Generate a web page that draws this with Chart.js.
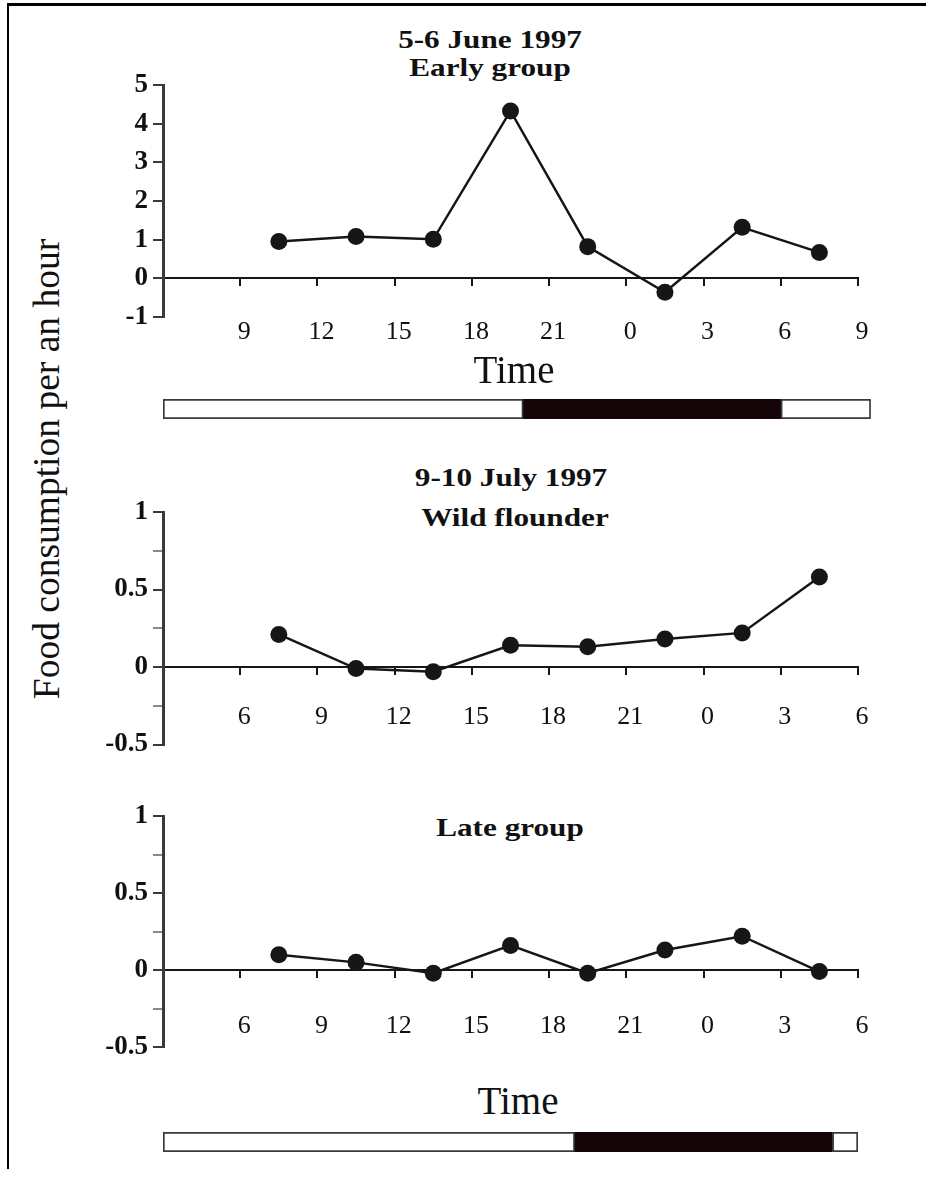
<!DOCTYPE html>
<html>
<head>
<meta charset="utf-8">
<title>Food consumption per an hour</title>
<script src="https://cdn.jsdelivr.net/npm/chart.js@4.4.1/dist/chart.umd.min.js"></script>
<style>
  html, body { margin: 0; background: #fff; }
  #page { position: relative; width: 926px; height: 1178px; overflow: hidden; background: #fff;
          font-family: "Liberation Serif", "Times New Roman", serif; color: #111; }
  .rule-top { position: absolute; left: 7px; top: 3px; width: 919px; height: 3px; background: #000; }
  .rule-left { position: absolute; left: 7px; top: 3px; width: 2px; height: 1166px; background: #000; }
  canvas { position: absolute; left: 0; }
  .label { position: absolute; white-space: nowrap; transform: translate(-50%, -50%); }
  .head { font-weight: bold; font-size: 26px; transform: translate(-50%, -50%) scaleX(1.2); }
  .time { font-size: 39px; }
  #ytitle { font-size: 37.5px; transform: translate(-50%, -50%) rotate(-90deg); }
</style>
</head>
<body>
<div id="page">
  <div class="rule-top"></div>
  <div class="rule-left"></div>

  <div class="label" id="ytitle" style="left:46px; top:469px">Food consumption per an hour</div>

  <div class="label head" style="left:490px; top:40px">5-6 June 1997</div>
  <div class="label head" style="left:490px; top:68px">Early group</div>
  <canvas id="early" width="926" height="300" style="top:60px"></canvas>
  <div class="label time" style="left:514px; top:369px">Time</div>
  <canvas id="lightJune" width="926" height="20" style="top:399px"></canvas>

  <div class="label head" style="left:511px; top:478px">9-10 July 1997</div>
  <div class="label head" style="left:515px; top:518px">Wild flounder</div>
  <canvas id="wild" width="926" height="280" style="top:490px"></canvas>

  <div class="label head" style="left:510px; top:828px">Late group</div>
  <canvas id="late" width="926" height="280" style="top:795px"></canvas>
  <div class="label time" style="left:518px; top:1100px">Time</div>
  <canvas id="lightJuly" width="926" height="20" style="top:1132px"></canvas>
</div>

<script>
// sampling times, in hours counted from midnight of the first day
const hoursJune = [10.5, 13.5, 16.5, 19.5, 22.5, 25.5, 28.5, 31.5];
const hoursJuly = [7.5, 10.5, 13.5, 16.5, 19.5, 22.5, 25.5, 28.5];

// food consumption per an hour
const earlyGroup = [0.95, 1.08, 1.01, 4.33, 0.82, -0.36, 1.32, 0.67];
const wildFlounder = [0.21, -0.01, -0.03, 0.14, 0.13, 0.18, 0.22, 0.58];
const lateGroup = [0.10, 0.05, -0.02, 0.16, -0.02, 0.13, 0.22, -0.01];

// light bar: whole span and the dark hours inside it
const spanJune = [6, 33.5];
const darkJune = [20, 30];
const spanJuly = [3, 30];
const darkJuly = [19, 29];

const SERIF = '"Liberation Serif", "Times New Roman", serif';
const INK = '#161616';
const AXIS_LEFT = 163;
const PLOT_RIGHT = 858;

function hourLabel(min) {
  return v => (v === min ? '' : String(v % 24));
}

function isHalfStep(v) {
  return Math.abs(v * 2 - Math.round(v * 2)) < 1e-9;
}

function halfStepLabel(v) {
  return isHalfStep(v) ? String(v) : '';
}

function panel(id, hours, values, opt) {
  const points = hours.map((h, i) => ({ x: h, y: values[i] }));
  return new Chart(document.getElementById(id), {
    type: 'line',
    data: {
      datasets: [{
        data: points,
        borderColor: INK,
        borderWidth: 2.5,
        pointRadius: 8.5,
        pointBackgroundColor: INK,
        pointBorderColor: INK,
        pointBorderWidth: 0,
        tension: 0,
        clip: false
      }]
    },
    options: {
      responsive: false,
      animation: false,
      events: [],
      layout: { autoPadding: false, padding: { top: opt.padTop, bottom: opt.padBottom, left: 0, right: 926 - PLOT_RIGHT } },
      plugins: { legend: { display: false }, tooltip: { enabled: false } },
      scales: {
        x: {
          type: 'linear',
          min: opt.xMin,
          max: opt.xMin + 27,
          position: { y: 0 },
          border: { color: INK, width: 2 },
          grid: { drawOnChartArea: false, drawTicks: true, tickLength: 7, color: INK, lineWidth: 2 },
          ticks: {
            stepSize: 3,
            autoSkip: false,
            maxRotation: 0,
            labelOffset: 4,
            padding: opt.labelPad,
            color: '#111',
            font: { family: SERIF, size: 26 },
            callback: hourLabel(opt.xMin)
          }
        },
        y: {
          min: opt.yMin,
          max: opt.yMax,
          border: { color: '#3a3a3a', width: 3 },
          grid: {
            drawOnChartArea: false,
            drawTicks: true,
            tickLength: 10,
            lineWidth: 2,
            // quarter steps get a fainter mark
            color: c => (c.tick && isHalfStep(c.tick.value) ? '#3a3a3a' : '#8a8a8a')
          },
          ticks: {
            stepSize: opt.yStep,
            autoSkip: false,
            padding: 5,
            color: '#111',
            font: { family: SERIF, size: 27, weight: 'bold' },
            callback: opt.yLabel
          },
          afterFit: s => { s.width = AXIS_LEFT; }
        }
      }
    }
  });
}

function lightBar(id, span, dark) {
  const segments = [[span[0], dark[0]], [dark[0], dark[1]], [dark[1], span[1]]];
  const right = AXIS_LEFT + (span[1] - span[0]) * (PLOT_RIGHT - AXIS_LEFT) / 27;
  return new Chart(document.getElementById(id), {
    type: 'bar',
    data: {
      labels: ['light'],
      datasets: [{
        data: segments.map(s => ({ x: s, y: 'light' })),
        backgroundColor: ['#ffffff', '#150509', '#ffffff'],
        borderColor: ['#3a3a3a', '#150509', '#3a3a3a'],
        borderWidth: 2,
        borderSkipped: false,
        barPercentage: 1,
        categoryPercentage: 1
      }]
    },
    options: {
      indexAxis: 'y',
      responsive: false,
      animation: false,
      events: [],
      layout: { autoPadding: false, padding: { left: AXIS_LEFT, right: 926 - right, top: 0, bottom: 0 } },
      plugins: { legend: { display: false }, tooltip: { enabled: false } },
      scales: {
        x: { type: 'linear', display: false, min: span[0], max: span[1] },
        y: { display: false }
      }
    }
  });
}

panel('early', hoursJune, earlyGroup, {
  xMin: 6, yMin: -1, yMax: 5, yStep: 1, padTop: 25, padBottom: 43, labelPad: 31,
  yLabel: v => String(v)
});
panel('wild', hoursJuly, wildFlounder, {
  xMin: 3, yMin: -0.5, yMax: 1, yStep: 0.25, padTop: 22, padBottom: 25.5, labelPad: 28,
  yLabel: halfStepLabel
});
panel('late', hoursJuly, lateGroup, {
  xMin: 3, yMin: -0.5, yMax: 1, yStep: 0.25, padTop: 21, padBottom: 28, labelPad: 34,
  yLabel: halfStepLabel
});

lightBar('lightJune', spanJune, darkJune);
lightBar('lightJuly', spanJuly, darkJuly);
</script>
</body>
</html>
